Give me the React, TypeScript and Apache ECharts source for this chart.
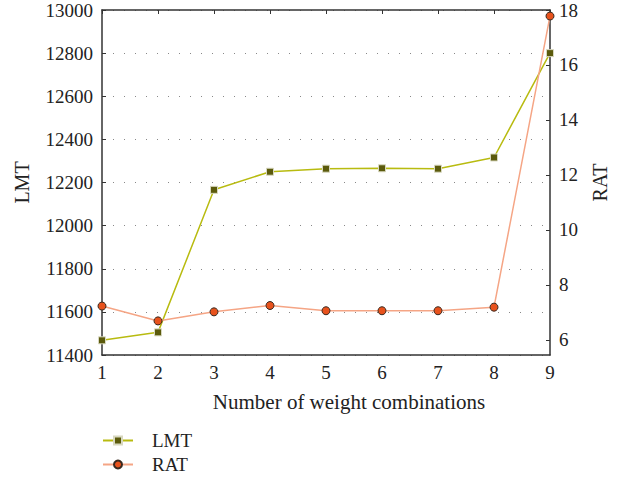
import React, { useEffect, useRef } from "react";
import * as echarts from "echarts";

const categories = ["1", "2", "3", "4", "5", "6", "7", "8", "9"];
const lmtValues = [11468, 11505, 12166, 12250, 12264, 12266, 12264, 12316, 12800];
const ratValues = [7.23, 6.69, 7.02, 7.25, 7.06, 7.06, 7.06, 7.19, 17.78];
const leftTicks = { min: 11400, max: 13000, interval: 200 };
const rightRange = { min: 5.45, max: 18 };
const rightTickValues = [6, 8, 10, 12, 14, 16, 18];

const FONT = "Liberation Serif";

export default function App() {
  const ref = useRef<HTMLDivElement>(null);
  useEffect(() => {
    const chart = echarts.init(ref.current!, null, { renderer: "svg" });
    const axisLine = { show: true, lineStyle: { color: "#333", width: 1.5 } };
    const label = { color: "#222", fontFamily: FONT, fontSize: 19 };
    const nameStyle = { color: "#222", fontFamily: FONT, fontSize: 20 };
    chart.setOption({
      animation: false,
      textStyle: { fontFamily: FONT },
      grid: { left: 102, right: 69, top: 10, bottom: 127 },
      legend: {
        orient: "vertical",
        left: 102,
        top: 431,
        height: 51,
        padding: 0,
        itemWidth: 30,
        itemHeight: 10,
        itemGap: 5,
        textStyle: { color: "#222", fontFamily: FONT, fontSize: 19, padding: [0, 0, 0, 14] },
        data: ["LMT", "RAT"],
      },
      xAxis: [
        {
          type: "category",
          data: categories,
          boundaryGap: false,
          name: "Number of weight combinations",
          nameLocation: "middle",
          nameGap: 36,
          nameTextStyle: { ...nameStyle, fontSize: 21, padding: [0, 0, 0, 46] },
          axisLine,
          axisTick: { show: false },
          axisLabel: { ...label, margin: 8 },
          splitLine: { show: false },
        },
        {
          type: "category",
          data: categories,
          boundaryGap: false,
          position: "top",
          axisLine,
          axisTick: { show: true, inside: true, length: 4, alignWithLabel: true, lineStyle: { color: "#333" } },
          axisLabel: { show: false },
          splitLine: { show: false },
        },
      ],
      yAxis: [
        {
          type: "value",
          min: leftTicks.min,
          max: leftTicks.max,
          interval: leftTicks.interval,
          name: "LMT",
          nameLocation: "middle",
          nameGap: 70,
          nameRotate: 90,
          nameTextStyle: nameStyle,
          axisLine,
          axisTick: { show: true, inside: true, length: 4, lineStyle: { color: "#333" } },
          axisLabel: { ...label, margin: 9, formatter: (v: number) => String(v) },
          splitLine: { show: true, lineStyle: { color: "#888", type: [1, 10], width: 1.2 } },
        },
        {
          type: "value",
          min: rightRange.min,
          max: rightRange.max,
          name: "RAT",
          nameLocation: "middle",
          nameGap: 40,
          nameRotate: 90,
          nameTextStyle: nameStyle,
          axisLine,
          axisTick: { show: true, inside: true, length: 4, lineStyle: { color: "#333" }, customValues: rightTickValues },
          axisLabel: { ...label, margin: 9, customValues: rightTickValues, formatter: (v: number) => String(v) },
          splitLine: { show: false },
        },
      ],
      series: [
        {
          name: "LMT",
          type: "line",
          xAxisIndex: 0,
          yAxisIndex: 0,
          data: lmtValues,
          symbol: "rect",
          symbolSize: 7,
          lineStyle: { color: "#b8bb10", width: 1.5 },
          itemStyle: { color: "#5b5a0c", borderColor: "#d8d8c0", borderWidth: 1 },
        },
        {
          name: "RAT",
          type: "line",
          xAxisIndex: 0,
          yAxisIndex: 1,
          data: ratValues,
          symbol: "circle",
          symbolSize: 8,
          lineStyle: { color: "#f5a585", width: 1.5 },
          itemStyle: { color: "#e8521c", borderColor: "#3a2a20", borderWidth: 1 },
        },
      ],
    });
    return () => chart.dispose();
  }, []);
  return <div ref={ref} style={{ position: "absolute", left: 0, top: 0, width: 619, height: 482 }} />;
}
